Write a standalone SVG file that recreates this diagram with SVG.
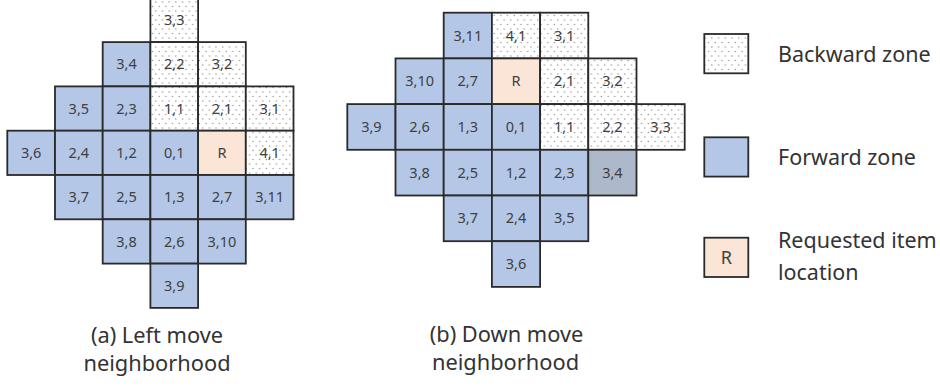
<svg xmlns="http://www.w3.org/2000/svg" width="940" height="387" viewBox="0 0 940 387">
<defs>
<pattern id="dots" width="6.7" height="9" patternUnits="userSpaceOnUse">
<rect width="6.7" height="9" fill="#ffffff"/>
<circle cx="1.7" cy="2" r="0.65" fill="#8a8a8a"/>
<circle cx="5.05" cy="6.5" r="0.65" fill="#8a8a8a"/>
</pattern>
<style>
.c{stroke:#2a2a2a;stroke-width:1.8}
.fw{fill:#b4c7e7}
.bw{fill:url(#dots)}
.rq{fill:#fbe5d6}
.gr{fill:#adb9ca}
.t{font-family:"Noto Sans","Liberation Sans",sans-serif;font-size:14.5px;fill:#404040;text-anchor:middle}
.cap{font-family:"Noto Sans","Liberation Sans",sans-serif;font-size:21.8px;fill:#333333;text-anchor:middle}
.leg{font-family:"Noto Sans","Liberation Sans",sans-serif;font-size:21.5px;fill:#333333}
</style>
</defs>
<rect width="940" height="387" fill="#ffffff"/>

<g id="left-grid">
<g id="L-3-3"><rect class="c bw" x="150.4" y="-2.2" width="47.7" height="44.3"/><text class="t" x="174.25" y="25">3,3</text></g>
<g id="L-3-4"><rect class="c fw" x="102.7" y="42.1" width="47.7" height="44.3"/><text class="t" x="126.55" y="69.3">3,4</text></g>
<g id="L-2-2"><rect class="c bw" x="150.4" y="42.1" width="47.7" height="44.3"/><text class="t" x="174.25" y="69.3">2,2</text></g>
<g id="L-3-2"><rect class="c bw" x="198.1" y="42.1" width="47.7" height="44.3"/><text class="t" x="221.95" y="69.3">3,2</text></g>
<g id="L-3-5"><rect class="c fw" x="55" y="86.4" width="47.7" height="44.3"/><text class="t" x="78.85" y="113.6">3,5</text></g>
<g id="L-2-3"><rect class="c fw" x="102.7" y="86.4" width="47.7" height="44.3"/><text class="t" x="126.55" y="113.6">2,3</text></g>
<g id="L-1-1"><rect class="c bw" x="150.4" y="86.4" width="47.7" height="44.3"/><text class="t" x="174.25" y="113.6">1,1</text></g>
<g id="L-2-1"><rect class="c bw" x="198.1" y="86.4" width="47.7" height="44.3"/><text class="t" x="221.95" y="113.6">2,1</text></g>
<g id="L-3-1"><rect class="c bw" x="245.8" y="86.4" width="47.7" height="44.3"/><text class="t" x="269.65" y="113.6">3,1</text></g>
<g id="L-3-6"><rect class="c fw" x="7.3" y="130.7" width="47.7" height="44.3"/><text class="t" x="31.15" y="157.9">3,6</text></g>
<g id="L-2-4"><rect class="c fw" x="55" y="130.7" width="47.7" height="44.3"/><text class="t" x="78.85" y="157.9">2,4</text></g>
<g id="L-1-2"><rect class="c fw" x="102.7" y="130.7" width="47.7" height="44.3"/><text class="t" x="126.55" y="157.9">1,2</text></g>
<g id="L-0-1"><rect class="c fw" x="150.4" y="130.7" width="47.7" height="44.3"/><text class="t" x="174.25" y="157.9">0,1</text></g>
<g id="L-R"><rect class="c rq" x="198.1" y="130.7" width="47.7" height="44.3"/><text class="t" x="221.95" y="157.9">R</text></g>
<g id="L-4-1"><rect class="c bw" x="245.8" y="130.7" width="47.7" height="44.3"/><text class="t" x="269.65" y="157.9">4,1</text></g>
<g id="L-3-7"><rect class="c fw" x="55" y="175" width="47.7" height="44.3"/><text class="t" x="78.85" y="202.2">3,7</text></g>
<g id="L-2-5"><rect class="c fw" x="102.7" y="175" width="47.7" height="44.3"/><text class="t" x="126.55" y="202.2">2,5</text></g>
<g id="L-1-3"><rect class="c fw" x="150.4" y="175" width="47.7" height="44.3"/><text class="t" x="174.25" y="202.2">1,3</text></g>
<g id="L-2-7"><rect class="c fw" x="198.1" y="175" width="47.7" height="44.3"/><text class="t" x="221.95" y="202.2">2,7</text></g>
<g id="L-3-11"><rect class="c fw" x="245.8" y="175" width="47.7" height="44.3"/><text class="t" x="269.65" y="202.2">3,11</text></g>
<g id="L-3-8"><rect class="c fw" x="102.7" y="219.3" width="47.7" height="44.3"/><text class="t" x="126.55" y="246.5">3,8</text></g>
<g id="L-2-6"><rect class="c fw" x="150.4" y="219.3" width="47.7" height="44.3"/><text class="t" x="174.25" y="246.5">2,6</text></g>
<g id="L-3-10"><rect class="c fw" x="198.1" y="219.3" width="47.7" height="44.3"/><text class="t" x="221.95" y="246.5">3,10</text></g>
<g id="L-3-9"><rect class="c fw" x="150.4" y="263.6" width="47.7" height="44.3"/><text class="t" x="174.25" y="290.8">3,9</text></g>
</g>
<g id="caption-a">
<text class="cap" x="157" y="343">(a) Left move</text>
<text class="cap" x="157" y="371">neighborhood</text>
</g>

<g id="right-grid">
<g id="D-3-11"><rect class="c fw" x="443.7" y="12.7" width="48.2" height="45.7"/><text class="t" x="467.8" y="40.6">3,11</text></g>
<g id="D-4-1"><rect class="c bw" x="491.9" y="12.7" width="48.2" height="45.7"/><text class="t" x="516" y="40.6">4,1</text></g>
<g id="D-3-1"><rect class="c bw" x="540.1" y="12.7" width="48.2" height="45.7"/><text class="t" x="564.2" y="40.6">3,1</text></g>
<g id="D-3-10"><rect class="c fw" x="395.5" y="58.4" width="48.2" height="45.7"/><text class="t" x="419.6" y="86.3">3,10</text></g>
<g id="D-2-7"><rect class="c fw" x="443.7" y="58.4" width="48.2" height="45.7"/><text class="t" x="467.8" y="86.3">2,7</text></g>
<g id="D-R"><rect class="c rq" x="491.9" y="58.4" width="48.2" height="45.7"/><text class="t" x="516" y="86.3">R</text></g>
<g id="D-2-1"><rect class="c bw" x="540.1" y="58.4" width="48.2" height="45.7"/><text class="t" x="564.2" y="86.3">2,1</text></g>
<g id="D-3-2"><rect class="c bw" x="588.3" y="58.4" width="48.2" height="45.7"/><text class="t" x="612.4" y="86.3">3,2</text></g>
<g id="D-3-9"><rect class="c fw" x="347.3" y="104.1" width="48.2" height="45.7"/><text class="t" x="371.4" y="132">3,9</text></g>
<g id="D-2-6"><rect class="c fw" x="395.5" y="104.1" width="48.2" height="45.7"/><text class="t" x="419.6" y="132">2,6</text></g>
<g id="D-1-3"><rect class="c fw" x="443.7" y="104.1" width="48.2" height="45.7"/><text class="t" x="467.8" y="132">1,3</text></g>
<g id="D-0-1"><rect class="c fw" x="491.9" y="104.1" width="48.2" height="45.7"/><text class="t" x="516" y="132">0,1</text></g>
<g id="D-1-1"><rect class="c bw" x="540.1" y="104.1" width="48.2" height="45.7"/><text class="t" x="564.2" y="132">1,1</text></g>
<g id="D-2-2"><rect class="c bw" x="588.3" y="104.1" width="48.2" height="45.7"/><text class="t" x="612.4" y="132">2,2</text></g>
<g id="D-3-3"><rect class="c bw" x="636.5" y="104.1" width="48.2" height="45.7"/><text class="t" x="660.6" y="132">3,3</text></g>
<g id="D-3-8"><rect class="c fw" x="395.5" y="149.8" width="48.2" height="45.7"/><text class="t" x="419.6" y="177.7">3,8</text></g>
<g id="D-2-5"><rect class="c fw" x="443.7" y="149.8" width="48.2" height="45.7"/><text class="t" x="467.8" y="177.7">2,5</text></g>
<g id="D-1-2"><rect class="c fw" x="491.9" y="149.8" width="48.2" height="45.7"/><text class="t" x="516" y="177.7">1,2</text></g>
<g id="D-2-3"><rect class="c fw" x="540.1" y="149.8" width="48.2" height="45.7"/><text class="t" x="564.2" y="177.7">2,3</text></g>
<g id="D-3-4"><rect class="c gr" x="588.3" y="149.8" width="48.2" height="45.7"/><text class="t" x="612.4" y="177.7">3,4</text></g>
<g id="D-3-7"><rect class="c fw" x="443.7" y="195.5" width="48.2" height="45.7"/><text class="t" x="467.8" y="223.4">3,7</text></g>
<g id="D-2-4"><rect class="c fw" x="491.9" y="195.5" width="48.2" height="45.7"/><text class="t" x="516" y="223.4">2,4</text></g>
<g id="D-3-5"><rect class="c fw" x="540.1" y="195.5" width="48.2" height="45.7"/><text class="t" x="564.2" y="223.4">3,5</text></g>
<g id="D-3-6"><rect class="c fw" x="491.9" y="241.2" width="48.2" height="45.7"/><text class="t" x="516" y="269.1">3,6</text></g>
</g>
<g id="caption-b">
<text class="cap" x="506.5" y="342">(b) Down move</text>
<text class="cap" x="505.5" y="370">neighborhood</text>
</g>

<g id="legend-backward"><rect class="c bw" x="704.3" y="34" width="44" height="39.3"/><text class="leg" x="778" y="61.5">Backward zone</text></g>
<g id="legend-forward"><rect class="c fw" x="704.3" y="137.3" width="44" height="39.3"/><text class="leg" x="778" y="165">Forward zone</text></g>
<g id="legend-requested"><rect class="c rq" x="704.3" y="237.7" width="44" height="39.3"/><text class="t" x="726.3" y="263.5" style="font-size:18px">R</text><text class="leg" x="778" y="248">Requested item</text><text class="leg" x="778" y="280">location</text></g>
</svg>
